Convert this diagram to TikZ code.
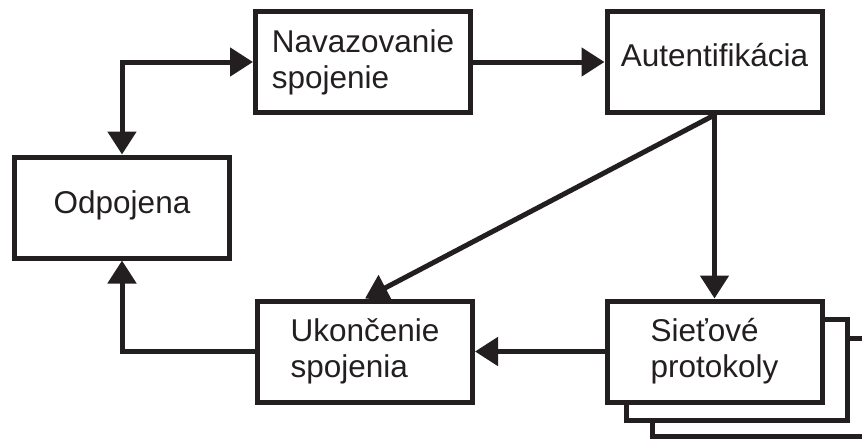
\documentclass[tikz,border=0pt]{standalone}
\usepackage{fontspec}
\setmainfont{Liberation Sans}
\usetikzlibrary{arrows.meta}
\definecolor{ink}{RGB}{35,31,32}
\begin{document}
\begin{tikzpicture}[x=1pt,y=-1pt, line width=5pt, line join=miter, color=ink,
  stepbox/.style={draw, fill=white, rectangle,
    minimum width=215pt, minimum height=101pt, inner sep=0pt,
    align=left, font=\fontsize{31.5}{36}\selectfont},
  backbox/.style={draw, fill=white, rectangle, inner sep=0pt},
  arr/.style={-{Triangle[length=23pt,width=28pt]}},
  biarr/.style={{Triangle[length=23pt,width=28pt]}-{Triangle[length=23pt,width=28pt]}}]
\clip (0,0) rectangle (862,439);

% stacked copies behind the protocol box
\node[backbox, minimum width=221pt, minimum height=98.5pt] (sie3) at (763,387.25) {};
\node[backbox, minimum width=221pt, minimum height=101pt] (sie2) at (736.5,369.5) {};

% main states
\node[stepbox] (nav)  at (363,62)      {Navazovanie\\spojenie};
\node[stepbox, text height=23pt, text depth=13.5pt] (auth) at (714.5,62) {Autentifikácia};
\node[stepbox, text height=23pt, text depth=11pt] (odp)  at (122,207.5) {Odpojena};
\node[stepbox] (uk)   at (365,351.5)   {Ukončenie\\spojenia};
\node[stepbox] (sie)  at (714.5,351.5) {Sieťové\\protokoly};

% transitions
\draw[biarr] (odp.north) |- (nav.west);
\draw[arr] (nav.east) -- (auth.west);
\draw[arr] (auth.south) -- (sie.north);
\draw[arr] (auth.south) -- (uk.north);
\draw[arr] (sie.west) -- (uk.east);
\draw[arr] (uk.west) -| (odp.south);
\end{tikzpicture}
\end{document}
